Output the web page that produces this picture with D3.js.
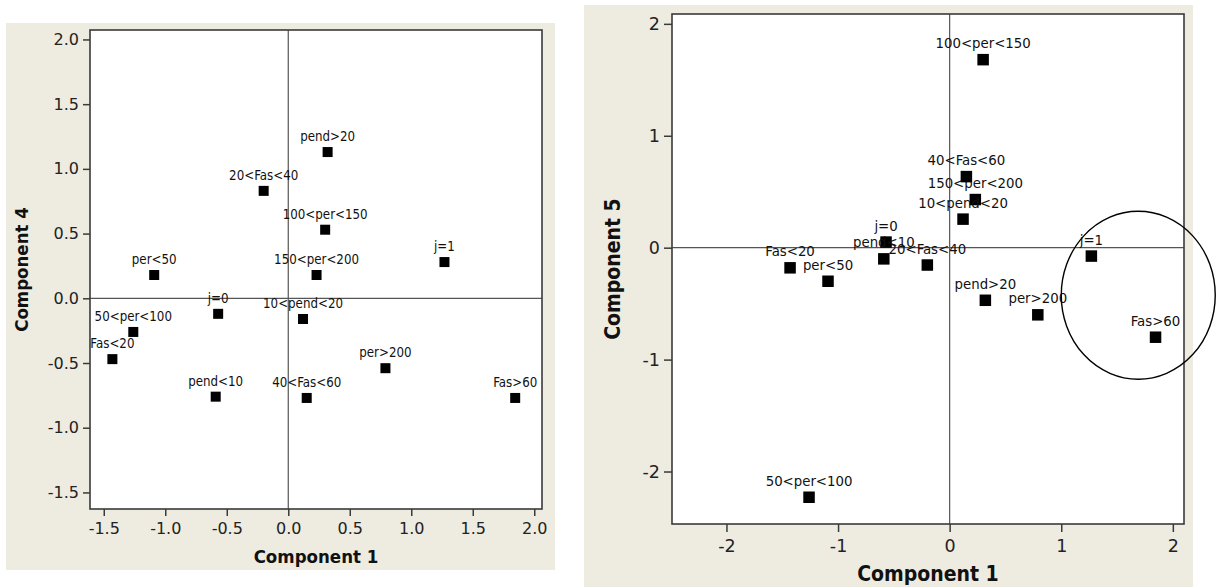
<!DOCTYPE html>
<html>
<head>
<meta charset="utf-8">
<script src="https://cdn.jsdelivr.net/npm/d3@7/dist/d3.min.js"></script>
<style>
    body { margin: 0; background: #fff; }
    svg text { font-family: "DejaVu Sans", sans-serif; fill: #222; }
    .point-label { font-family: "DejaVu Sans Condensed", "DejaVu Sans", sans-serif; font-stretch: condensed; fill: #111; }
    .axis-title { font-family: "DejaVu Sans Condensed", "DejaVu Sans", sans-serif; font-stretch: condensed; font-weight: bold; fill: #111; }
</style>
</head>
<body>
<svg id="chart" width="1222" height="587"></svg>
<script>
// categories shared by both plots
const categories = [
    'per<50', '20<Fas<40', 'pend>20', '100<per<150', '150<per<200', 'j=1', 'j=0',
    '50<per<100', 'Fas<20', 'pend<10', '10<pend<20', 'per>200', '40<Fas<60', 'Fas>60'
];
const component1 = [-1.09, -0.20, 0.32, 0.30, 0.23, 1.27, -0.57, -1.26, -1.43, -0.59, 0.12, 0.79, 0.15, 1.845];
const component4 = [0.18, 0.83, 1.13, 0.53, 0.18, 0.28, -0.12, -0.26, -0.47, -0.76, -0.16, -0.54, -0.77, -0.77];
const component5 = [-0.30, -0.155, -0.47, 1.68, 0.43, -0.075, 0.05, -2.23, -0.18, -0.10, 0.255, -0.60, 0.635, -0.80];

const leftXTicks = [-1.5, -1.0, -0.5, 0.0, 0.5, 1.0, 1.5, 2.0];
const leftYTicks = [-1.5, -1.0, -0.5, 0.0, 0.5, 1.0, 1.5, 2.0];
const rightXTicks = [-2, -1, 0, 1, 2];
const rightYTicks = [-2, -1, 0, 1, 2];

// hand drawn ring round j=1 / Fas>60 (component1, component5 units)
const ringCenter = [1.69, -0.425];
const ringRadius = [0.69, 0.75];

const svg = d3.select('#chart');

/**
 * draws one scatter panel with framed plot area, zero lines and labelled squares
 */
function scatterPanel (opts) {
    const g = svg.append('g');

    g.append('rect')
        .attr('x', opts.panel[0])
        .attr('y', opts.panel[1])
        .attr('width', opts.panel[2] - opts.panel[0])
        .attr('height', opts.panel[3] - opts.panel[1])
        .attr('fill', '#eeebe1');

    const [left, top, right, bottom] = opts.plot;

    g.append('rect')
        .attr('x', left)
        .attr('y', top)
        .attr('width', right - left)
        .attr('height', bottom - top)
        .attr('fill', '#fff');

    const x = d3.scaleLinear().domain(opts.xDomain).range([left, right]);
    const y = d3.scaleLinear().domain(opts.yDomain).range([bottom, top]);

    // ZERO LINES
    g.append('line')
        .attr('x1', x(0)).attr('x2', x(0))
        .attr('y1', top).attr('y2', bottom)
        .attr('stroke', '#555').attr('stroke-width', 1.2);
    g.append('line')
        .attr('x1', left).attr('x2', right)
        .attr('y1', y(0)).attr('y2', y(0))
        .attr('stroke', '#555').attr('stroke-width', 1.2);

    // FRAME
    g.append('rect')
        .attr('x', left)
        .attr('y', top)
        .attr('width', right - left)
        .attr('height', bottom - top)
        .attr('fill', 'none')
        .attr('stroke', '#3a3a3a')
        .attr('stroke-width', 1.6);

    // AXES
    const xAxis = g.append('g')
        .attr('transform', `translate(0 ${bottom})`)
        .call(d3.axisBottom(x)
            .tickValues(opts.xTicks)
            .tickFormat(opts.fmt)
            .tickSize(opts.tickSize)
            .tickSizeOuter(0)
            .tickPadding(opts.xPad));

    const yAxis = g.append('g')
        .attr('transform', `translate(${left} 0)`)
        .call(d3.axisLeft(y)
            .tickValues(opts.yTicks)
            .tickFormat(opts.fmt)
            .tickSize(opts.tickSize)
            .tickSizeOuter(0)
            .tickPadding(4));

    [xAxis, yAxis].forEach((a) => {
        a.select('.domain').remove();
        a.selectAll('line').attr('stroke', '#3a3a3a').attr('stroke-width', 1.5);
        a.selectAll('text')
            .attr('font-size', opts.tickFont)
            .attr('font-family', '"DejaVu Sans", sans-serif')
            .attr('fill', '#222');
    });

    // AXIS TITLES
    g.append('text')
        .classed('axis-title', true)
        .attr('x', (left + right) / 2)
        .attr('y', opts.xTitleY)
        .attr('text-anchor', 'middle')
        .attr('font-size', opts.titleFont)
        .text(opts.xTitle);

    g.append('text')
        .classed('axis-title', true)
        .attr('transform', `translate(${opts.yTitleX} ${(top + bottom) / 2}) rotate(-90)`)
        .attr('text-anchor', 'middle')
        .attr('font-size', opts.titleFont)
        .text(opts.yTitle);

    // POINTS
    const points = categories.map((c, i) => ({ label: c, vx: opts.xs[i], vy: opts.ys[i] }));
    const s = opts.markSize;

    const marks = g.append('g').selectAll('g')
        .data(points)
        .enter()
        .append('g')
        .attr('transform', (d) => `translate(${x(d.vx)} ${y(d.vy)})`);

    marks.append('text')
        .classed('point-label', true)
        .attr('y', -opts.labelGap)
        .attr('text-anchor', 'middle')
        .attr('font-size', opts.labelFont)
        .text((d) => d.label);

    marks.append('rect')
        .attr('x', -s / 2)
        .attr('y', -s / 2)
        .attr('width', s)
        .attr('height', s)
        .attr('fill', '#000');

    return { x, y };
}

scatterPanel({
    panel: [6, 23, 555, 570],
    plot: [90, 30, 542, 509],
    xDomain: [-1.612, 2.063],
    yDomain: [-1.628, 2.073],
    xTicks: leftXTicks,
    yTicks: leftYTicks,
    fmt: (d) => d.toFixed(1),
    tickSize: 7,
    xPad: 7,
    tickFont: 16,
    titleFont: 18.5,
    labelFont: 13.2,
    labelGap: 11,
    markSize: 10,
    xTitle: 'Component 1',
    yTitle: 'Component 4',
    xTitleY: 563,
    yTitleX: 28,
    xs: component1,
    ys: component4
});

const right = scatterPanel({
    panel: [584, 5, 1193, 590],
    plot: [672, 14, 1184, 524],
    xDomain: [-2.488, 2.10],
    yDomain: [-2.469, 2.088],
    xTicks: rightXTicks,
    yTicks: rightYTicks,
    fmt: (d) => String(d),
    tickSize: 8,
    xPad: 8,
    tickFont: 17.5,
    titleFont: 21,
    labelFont: 14.8,
    labelGap: 11.5,
    markSize: 11.5,
    xTitle: 'Component 1',
    yTitle: 'Component 5',
    xTitleY: 581,
    yTitleX: 620,
    xs: component1,
    ys: component5
});

// RING ANNOTATION
svg.append('ellipse')
    .attr('cx', right.x(ringCenter[0]))
    .attr('cy', right.y(ringCenter[1]))
    .attr('rx', right.x(ringRadius[0]) - right.x(0))
    .attr('ry', right.y(0) - right.y(ringRadius[1]))
    .attr('fill', 'none')
    .attr('stroke', '#000')
    .attr('stroke-width', 1.4);
</script>
</body>
</html>
